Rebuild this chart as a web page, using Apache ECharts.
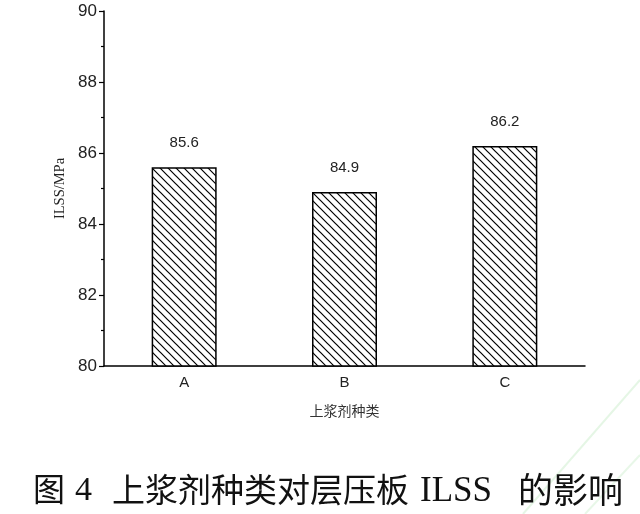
<!DOCTYPE html>
<html>
<head>
<meta charset="utf-8">
<script src="https://cdn.jsdelivr.net/npm/echarts@6/dist/echarts.min.js"></script>
<style>html,body{margin:0;padding:0;background:#fff;}#c{width:640px;height:514px;}</style>
</head>
<body>
<div id="c"></div>
<script>
var categories = ['A', 'B', 'C'];
var ilssValues = [85.6, 84.9, 86.2];
var yTicks = [80, 82, 84, 86, 88, 90];
var yAxisTitle = 'ILSS/MPa';
var xAxisTitle = '上浆剂种类';

function hatch() {
  var c = document.createElement('canvas');
  c.width = 8; c.height = 8;
  var ctx = c.getContext('2d');
  ctx.fillStyle = '#fff';
  ctx.fillRect(0, 0, 8, 8);
  ctx.strokeStyle = '#000';
  ctx.lineWidth = 1.2;
  ctx.beginPath();
  ctx.moveTo(-1, -1); ctx.lineTo(9, 9);
  ctx.moveTo(-1, 7); ctx.lineTo(1, 9);
  ctx.moveTo(7, -1); ctx.lineTo(9, 1);
  ctx.stroke();
  return c;
}

var chart = echarts.init(document.getElementById('c'), null, {renderer: 'canvas'});
var font = '"Liberation Sans", Arial, sans-serif';
chart.setOption({
  backgroundColor: '#fff',
  animation: false,
  grid: {left: 104, right: 55, top: 11, bottom: 148, containLabel: false},
  xAxis: {
    type: 'category',
    data: categories,
    name: xAxisTitle,
    nameLocation: 'middle',
    nameGap: 38,
    nameTextStyle: {fontFamily: '"Noto Sans CJK SC", sans-serif', fontSize: 14, color: '#333'},
    axisLine: {lineStyle: {color: '#000', width: 1.5}},
    axisTick: {alignWithLabel: true, length: 6, lineStyle: {color: '#000', width: 1.2}},
    axisLabel: {fontFamily: font, fontSize: 15, color: '#222', margin: 9},
    splitLine: {show: false}
  },
  yAxis: {
    type: 'value',
    min: yTicks[0],
    max: yTicks[yTicks.length - 1],
    interval: 2,
    name: yAxisTitle,
    nameLocation: 'middle',
    nameGap: 35,
    nameTextStyle: {fontFamily: '"Liberation Serif", "Times New Roman", serif', fontSize: 14.5, color: '#222'},
    axisLine: {show: true, lineStyle: {color: '#000', width: 1.5}},
    axisTick: {show: true, length: 5, lineStyle: {color: '#000', width: 1.2}},
    minorTick: {show: true, splitNumber: 2, length: 3, lineStyle: {color: '#000', width: 1.2}},
    axisLabel: {fontFamily: font, fontSize: 17, color: '#222', margin: 7},
    splitLine: {show: false}
  },
  series: [{
    type: 'bar',
    data: ilssValues,
    barWidth: 65,
    itemStyle: {
      color: {image: hatch(), repeat: 'repeat'},
      borderColor: '#000',
      borderWidth: 1.5
    },
    label: {
      show: true,
      position: 'top',
      distance: 17,
      fontFamily: font,
      fontSize: 15,
      color: '#222',
      formatter: function (p) { return p.value.toFixed(1); }
    }
  }],
  graphic: [
    {type: 'line', silent: true, z: -1, shape: {x1: 523, y1: 514, x2: 640, y2: 380}, style: {stroke: 'rgba(150,220,150,0.25)', lineWidth: 2}},
    {type: 'line', silent: true, z: -1, shape: {x1: 585, y1: 514, x2: 640, y2: 455}, style: {stroke: 'rgba(150,220,150,0.22)', lineWidth: 2}},
    {type: 'text', left: 33, top: 473, style: {text: '图', font: '32px "Noto Sans CJK SC"', fill: '#111'}},
    {type: 'text', left: 75, top: 474, style: {text: '4', font: '34px "Liberation Serif"', fill: '#111'}},
    {type: 'text', left: 112, top: 473, style: {text: '上浆剂种类对层压板', font: '33px "Noto Sans CJK SC"', fill: '#111'}},
    {type: 'text', left: 420, top: 474, style: {text: 'ILSS', font: '35px "Liberation Serif"', fill: '#111'}},
    {type: 'text', left: 518, top: 472, style: {text: '的影响', font: '35px "Noto Sans CJK SC"', fill: '#111'}}
  ]
});
</script>
</body>
</html>
